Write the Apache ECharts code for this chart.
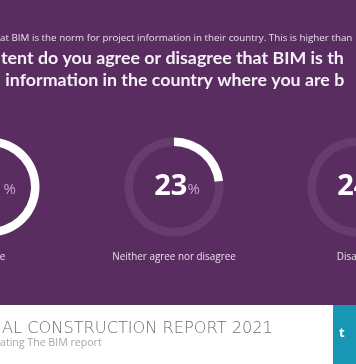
<!DOCTYPE html>
<html><head><meta charset="utf-8">
<script src="https://cdn.jsdelivr.net/npm/echarts@6/dist/echarts.min.js"></script>
<style>html,body{margin:0;padding:0;background:#592d60;}#c{width:356px;height:364px;}</style>
</head><body><div id="c"></div>
<script>
// Data
const categories = ['Agree', 'Neither agree nor disagree', 'Disagree'];
const percentValues = [51, 23, 24];
const introText = 'at BIM is the norm for project information in their country. This is higher than';
const titleLines = ['tent do you agree or disagree that BIM is th', ' information in the country where you are b'];
const footerTitle = 'AL CONSTRUCTION REPORT 2021';
const footerSub = 'ating The BIM report';
const footerTab = 't';

// Layout
const ringCentersX = [-10, 174, 357];
const ringCenterY = 187;
const purple = '#592d60';

const chart = echarts.init(document.getElementById('c'), null, {renderer: 'canvas'});

const series = categories.map((cat, i) => ({
  type: 'pie',
  center: [ringCentersX[i], ringCenterY],
  radius: [41, 49.5],
  startAngle: 90,
  clockwise: true,
  silent: true,
  animation: false,
  label: {show: false},
  labelLine: {show: false},
  data: [
    {
      name: cat, value: percentValues[i],
      itemStyle: {color: '#ffffff'},
      label: {
        show: true, position: 'center',
        formatter: '{n|' + percentValues[i] + '}{p|%}',
        rich: {
          n: {fontFamily: 'Open Sans', fontWeight: 'bold', fontSize: 29, color: '#ffffff', padding: [0, 0, 0, 6]},
          p: {fontFamily: 'Open Sans', fontSize: 15, color: '#c7a6d0', padding: [6, 0, 0, 0]}
        }
      }
    },
    {name: 'rest', value: 100 - percentValues[i], itemStyle: {color: 'rgba(255,255,255,0.08)'}, label: {show: false}}
  ]
}));

const graphics = [
  {type: 'rect', shape: {x: 0, y: 305, width: 356, height: 59}, style: {fill: '#ffffff'}, z: 1},
  {type: 'rect', shape: {x: 333, y: 305, width: 23, height: 59}, style: {fill: '#1797b4'}, z: 2},
  {type: 'text', x: 0, y: 38.5, style: {text: introText, fontFamily: 'Open Sans', fontSize: 9.8, fill: '#eadfec', textVerticalAlign: 'middle'}},
  {type: 'text', x: 1, y: 58, style: {text: titleLines[0], fontFamily: 'Lato', fontWeight: 'bold', fontSize: 17.8, fill: '#f6f0f7', textVerticalAlign: 'middle'}},
  {type: 'text', x: 1, y: 80, style: {text: titleLines[1], fontFamily: 'Lato', fontWeight: 'bold', fontSize: 17.8, fill: '#f6f0f7', textVerticalAlign: 'middle'}},
  {type: 'text', x: 2, y: 329, style: {text: footerTitle, fontFamily: 'DejaVu Sans', fontWeight: 200, fontSize: 16.2, fill: '#6e6e6e', textVerticalAlign: 'middle'}, z: 3},
  {type: 'text', x: 0, y: 343, style: {text: footerSub, fontFamily: 'Open Sans', fontSize: 10.6, fill: '#a8a8a8', textVerticalAlign: 'middle'}, z: 3},
  {type: 'text', x: 339, y: 333, style: {text: footerTab, fontFamily: 'Open Sans', fontWeight: 'bold', fontSize: 13, fill: '#ffffff', textVerticalAlign: 'middle'}, z: 3}
];
categories.forEach((cat, i) => {
  graphics.push({type: 'text', x: ringCentersX[i] + (i === 0 ? 2 : 0), y: 257, style: {text: cat, fontFamily: 'Open Sans', fontSize: 9.9, fill: '#eadfec', textAlign: 'center', textVerticalAlign: 'middle'}});
});

chart.setOption({
  backgroundColor: purple,
  animation: false,
  series: series,
  graphic: graphics
});
</script></body></html>
